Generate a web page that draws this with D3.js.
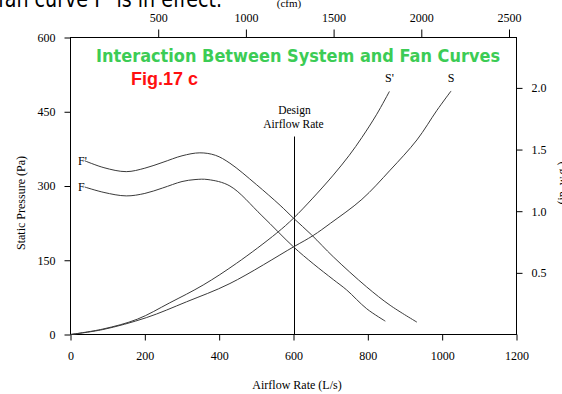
<!DOCTYPE html>
<html>
<head>
<meta charset="utf-8">
<script src="https://cdn.jsdelivr.net/npm/d3@7"></script>
<style>
    body { margin: 0; background: #fff; }
    #chart { width: 562px; height: 394px; overflow: hidden; }
    text { font-family: "Liberation Serif", "Times New Roman", serif; }
</style>
</head>
<body>
<div id="chart"></div>
<script>
// airflow in L/s, pressure in Pa
const flowTicks = [0, 200, 400, 600, 800, 1000, 1200];
const pressureTicks = [0, 150, 300, 450, 600];
const cfmTicks = [500, 1000, 1500, 2000, 2500];
const inwgTicks = [0.5, 1.0, 1.5, 2.0];
const designFlow = 600;

const fanF = [[38, 298], [90, 287], [150, 280], [200, 285], [248, 296], [300, 309], [335, 313],
    [370, 313], [429, 300], [515, 240], [600, 177], [653, 143], [707, 111], [743, 90], [797, 52], [847, 27]];
const fanFPrime = [[38, 351], [90, 337], [150, 329], [200, 336], [249, 348], [300, 361], [348, 367],
    [390, 362], [429, 346], [500, 303], [564, 261], [600, 235], [649, 201], [707, 157], [797, 96],
    [860, 59], [932, 25]];
const sysS = [[0, 0], [87, 10], [204, 34], [312, 66], [429, 103], [600, 177], [653, 200], [700, 225],
    [784, 273], [860, 332], [932, 393], [986, 453], [1024, 492]];
const sysSPrime = [[0, 0], [87, 11], [180, 31], [267, 64], [357, 100], [447, 144], [555, 205],
    [600, 235], [650, 274], [707, 322], [750, 362], [784, 398], [824, 445], [858, 491]];

const curves = [
    { name: "F", data: fanF },
    { name: "F'", data: fanFPrime },
    { name: "S", data: sysS },
    { name: "S'", data: sysSPrime }
];

class FanChart {
    constructor(div) {
        var viz = this;
        viz.div = d3.select(div);
        viz.width = 562;
        viz.height = 394;
        viz.svg = viz.div.append("svg")
            .attr("width", viz.width)
            .attr("height", viz.height);

        // plot box
        viz.left = 70.5;
        viz.right = 516.5;
        viz.top = 37.5;
        viz.bottom = 334.5;

        viz.x = d3.scaleLinear().domain([0, 1200]).range([viz.left, viz.right]);
        viz.y = d3.scaleLinear().domain([0, 600]).range([viz.bottom, viz.top]);
        // 1 L/s = 2.1189 cfm, 1 in. w.g. = 249.09 Pa
        viz.xCfm = d3.scaleLinear().domain([0, 1200 * 2.1189]).range([viz.left, viz.right]);
        viz.yInwg = d3.scaleLinear().domain([0, 600 / 249.09]).range([viz.bottom, viz.top]);

        viz.draw();
    }

    draw() {
        var viz = this;
        viz.drawText();
        viz.drawAxes();
        viz.drawCurves();
    }

    drawText() {
        var viz = this;
        // tail of the slide text above the figure, cut by the crop
        viz.svg.append("text")
            .attr("x", -2).attr("y", 7)
            .attr("textLength", 224).attr("lengthAdjust", "spacingAndGlyphs")
            .style("font-family", "'Comic Sans MS', 'DejaVu Sans', sans-serif")
            .style("font-size", "23px")
            .text("fan curve F' is in effect.");

        viz.svg.append("text")
            .attr("x", 96).attr("y", 62)
            .attr("textLength", 404).attr("lengthAdjust", "spacingAndGlyphs")
            .style("font-family", "'Comic Sans MS', 'DejaVu Sans', sans-serif")
            .style("font-weight", "bold")
            .style("font-size", "17px")
            .attr("fill", "#3ccc55")
            .text("Interaction Between System and Fan Curves");

        viz.svg.append("text")
            .attr("x", 131).attr("y", 85)
            .style("font-family", "'Liberation Sans', Arial, sans-serif")
            .style("font-weight", "bold")
            .style("font-size", "18px")
            .attr("fill", "#ff1010")
            .text("Fig.17 c");
    }

    drawAxes() {
        var viz = this;
        viz.svg.append("rect")
            .attr("x", viz.left).attr("y", viz.top)
            .attr("width", viz.right - viz.left)
            .attr("height", viz.bottom - viz.top)
            .attr("fill", "none").attr("stroke", "#000");

        var fmt = d3.format("d");
        var axes = [
            { axis: d3.axisLeft(viz.y).tickValues(pressureTicks).tickFormat(fmt).tickPadding(9),
              t: "translate(" + viz.left + ",0)" },
            { axis: d3.axisBottom(viz.x).tickValues(flowTicks).tickFormat(fmt).tickPadding(11),
              t: "translate(0," + viz.bottom + ")" },
            { axis: d3.axisTop(viz.xCfm).tickValues(cfmTicks).tickFormat(fmt).tickSize(8).tickPadding(8),
              t: "translate(0," + viz.top + ")" },
            { axis: d3.axisRight(viz.yInwg).tickValues(inwgTicks).tickFormat(d3.format(".1f")).tickPadding(9),
              t: "translate(" + viz.right + ",0)" }
        ];
        axes.forEach(function(a) {
            var g = viz.svg.append("g")
                .attr("transform", a.t)
                .call(a.axis.tickSizeOuter(0));
            g.select(".domain").remove();
            g.selectAll("line").attr("stroke", "#000");
            g.selectAll("text")
                .style("font-family", "'Liberation Serif', serif")
                .style("font-size", "12px")
                .attr("fill", "#000");
        });

        viz.svg.append("text")
            .attr("transform", "translate(25,203) rotate(-90)")
            .attr("text-anchor", "middle")
            .style("font-size", "12px")
            .text("Static Pressure (Pa)");

        viz.svg.append("text")
            .attr("transform", "translate(566,183) rotate(-90)")
            .attr("text-anchor", "middle")
            .style("font-size", "12px")
            .text("(in. w.g.)");

        viz.svg.append("text")
            .attr("x", 297).attr("y", 389)
            .attr("text-anchor", "middle")
            .style("font-size", "12px")
            .text("Airflow Rate (L/s)");

        viz.svg.append("text")
            .attr("x", 289).attr("y", 7)
            .attr("text-anchor", "middle")
            .style("font-size", "11px")
            .text("(cfm)");

        // design airflow rate marker
        viz.svg.append("line")
            .attr("x1", Math.round(viz.x(designFlow)) + 0.5)
            .attr("x2", Math.round(viz.x(designFlow)) + 0.5)
            .attr("y1", 136.5).attr("y2", viz.bottom)
            .attr("stroke", "#000");
        viz.svg.append("text")
            .attr("x", viz.x(designFlow) + 1).attr("y", 114)
            .attr("text-anchor", "middle")
            .style("font-size", "11.5px")
            .text("Design");
        viz.svg.append("text")
            .attr("x", viz.x(designFlow)).attr("y", 128)
            .attr("text-anchor", "middle")
            .style("font-size", "11.5px")
            .text("Airflow Rate");
    }

    drawCurves() {
        var viz = this;
        var line = d3.line()
            .x(d => viz.x(d[0]))
            .y(d => viz.y(d[1]))
            .curve(d3.curveCatmullRom.alpha(0.5));

        viz.svg.selectAll(".curve")
            .data(curves)
            .enter().append("path")
            .attr("class", "curve")
            .attr("d", d => line(d.data))
            .attr("fill", "none")
            .attr("stroke", "#3a3a3a")
            .attr("stroke-width", 1);

        // curve labels: fans at the left end, systems above the top end
        viz.svg.selectAll(".label")
            .data(curves)
            .enter().append("text")
            .attr("class", "label")
            .attr("x", function(d) {
                var p = d.data[d.data.length - 1];
                return d.name[0] == "F" ? 78 : viz.x(p[0]);
            })
            .attr("y", function(d) {
                var p = d.name[0] == "F" ? d.data[0] : d.data[d.data.length - 1];
                return d.name[0] == "F" ? viz.y(p[1]) + 4 : 82;
            })
            .attr("text-anchor", d => d.name[0] == "F" ? "start" : "middle")
            .style("font-size", "12px")
            .text(d => d.name);
    }
}

new FanChart("#chart");
</script>
</body>
</html>
